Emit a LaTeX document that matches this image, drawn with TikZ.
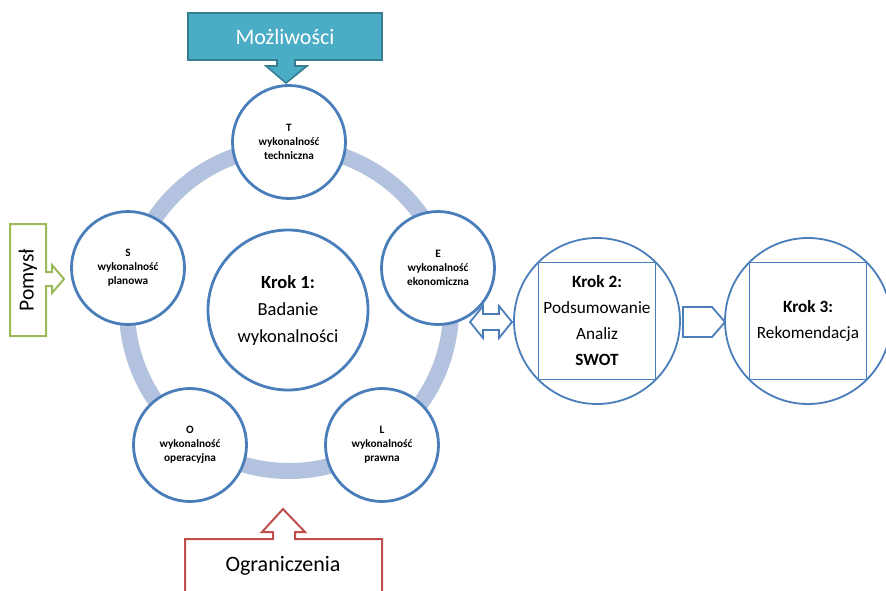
\documentclass[tikz,border=0pt]{standalone}
\usepackage{fontspec}
\setmainfont{Carlito}

\definecolor{ringblue}{HTML}{B3C2DE}
\definecolor{lineblue}{HTML}{4A7EBB}
\definecolor{tealfill}{HTML}{4BACC6}
\definecolor{tealline}{HTML}{357D91}
\definecolor{pomgreen}{HTML}{9BBB59}
\definecolor{ogrred}{HTML}{C0504D}

\begin{document}
\begin{tikzpicture}
  [x=1pt, y=-1pt,
   feas/.style={circle, draw=lineblue, line width=2.8pt, fill=white,
     minimum size=113pt, inner sep=0pt, align=center,
     font=\fontsize{11.3}{14}\selectfont\bfseries},
   krok/.style={circle, draw=lineblue, line width=1.8pt, fill=white,
     minimum size=166pt, inner sep=0pt, align=center},
   kroktext/.style={align=center, font=\fontsize{17.2}{26}\selectfont}]
  \useasboundingbox (0,0) rectangle (886,590);

  % ring and main step
  \coordinate (rc) at (289,309);
  \draw[ringblue, line width=16pt] (rc) circle (162pt);
  \node[circle, draw=lineblue, line width=2.8pt, fill=white, minimum size=160pt,
    align=center, font=\fontsize{18.5}{27}\selectfont] (krok1) at (288,310)
    {\textbf{Krok 1:}\\Badanie\\wykonalności};

  \node[feas] (techT) at (289,142) {T\\wykonalność\\techniczna};
  \node[feas] (ekonE) at (438,268) {E\\wykonalność\\ekonomiczna};
  \node[feas] (prawL) at (382,445) {L\\wykonalność\\prawna};
  \node[feas] (operO) at (190,445) {O\\wykonalność\\operacyjna};
  \node[feas] (planS) at (128,268) {S\\wykonalność\\planowa};

  % steps 2 and 3
  \node[krok] (krok2) at (597,321) {};
  \draw[lineblue, line width=1.8pt] (krok2.center) ++(-58.5,-58.5) rectangle ++(117,117);
  \node[kroktext] (krok2t) at (krok2.center)
    {\textbf{Krok 2:}\\Podsumowanie\\Analiz\\\textbf{SWOT}};

  \node[krok] (krok3) at (808,321) {};
  \draw[lineblue, line width=1.8pt] (krok3.center) ++(-58.5,-58.5) rectangle ++(117,117);
  \node[kroktext] (krok3t) at (krok3.center)
    {\textbf{Krok 3:}\\Rekomendacja};

  % block arrows
  \draw[lineblue, line width=1.8pt, fill=white, line join=miter]
    (470,322) -- (483,306) -- (483,314) -- (499,314) -- (499,306) -- (512,322)
    -- (499,338) -- (499,330) -- (483,330) -- (483,338) -- cycle;
  \draw[lineblue, line width=1.8pt, fill=white]
    (683,307) -- (712,307) -- (725,322) -- (712,337) -- (683,337) -- cycle;

  % callouts
  \draw[tealline, fill=tealfill, line width=1.6pt]
    (188,13) -- (382,13) -- (382,60) -- (295,60) -- (295,66) -- (307,66)
    -- (286,83) -- (266,66) -- (277,66) -- (277,60) -- (188,60) -- cycle;
  \node[text=white, font=\fontsize{22}{26}\selectfont] (mozl) at (285,37) {Możliwości};

  \draw[pomgreen, fill=white, line width=2pt]
    (10,224) -- (46,224) -- (46,272) -- (52,272) -- (52,265) -- (64,279)
    -- (52,293) -- (52,286) -- (46,286) -- (46,336) -- (10,336) -- cycle;
  \node[rotate=90, font=\fontsize{21.5}{25}\selectfont] (pomysl) at (28,280) {Pomysł};

  \draw[ogrred, fill=white, line width=2pt]
    (185,600) -- (185,539) -- (273,539) -- (273,532) -- (262,532) -- (283,509)
    -- (305,532) -- (295,532) -- (295,539) -- (382,539) -- (382,600);
  \node[font=\fontsize{22}{26}\selectfont] (ogr) at (283,566) {Ograniczenia};
\end{tikzpicture}
\end{document}
